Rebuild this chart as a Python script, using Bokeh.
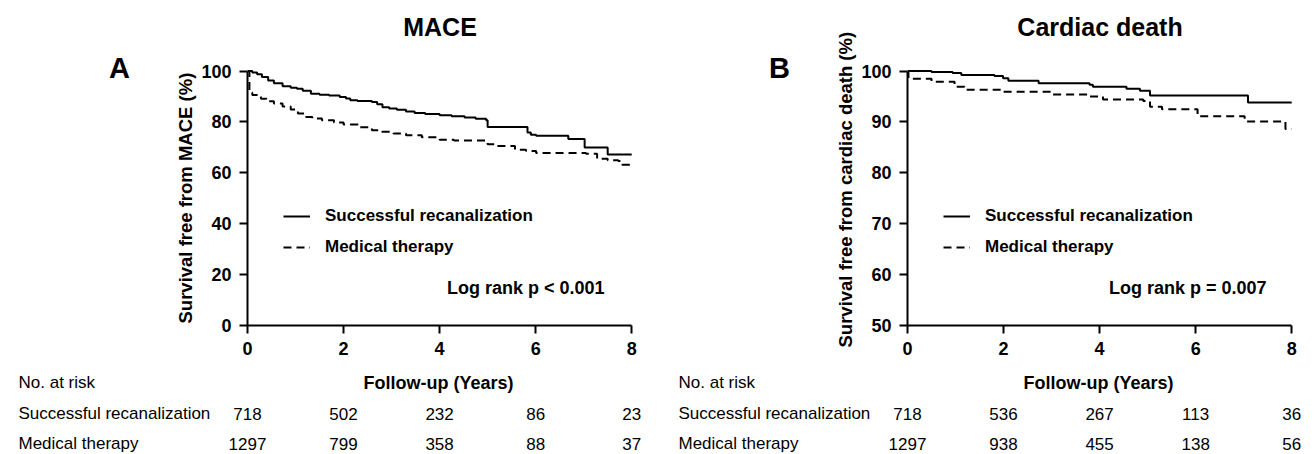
import math
from bokeh.plotting import figure
from bokeh.models import Label, Legend, LegendItem, FixedTicker, Range1d, Title
from bokeh.layouts import row, column
from bokeh.embed import file_html
from bokeh.resources import INLINE
from bokeh.core.properties import value

FONT = "Liberation Sans"

# ---------------- data ----------------
groups = ["Successful recanalization", "Medical therapy"]
x_ticks = [0, 2, 4, 6, 8]

# Panel A: MACE
mace_recan_t = [0, 0.1, 0.2, 0.3, 0.43, 0.55, 0.73, 0.9, 1.03, 1.15, 1.32, 1.5, 1.7, 1.92, 2.05, 2.14,
                2.29, 2.59, 2.7, 2.81, 2.95, 3.11, 3.3, 3.48, 3.7, 4.0, 4.25, 4.52, 4.75, 4.97, 5.0,
                5.83, 5.9, 6.01, 6.68, 7.02, 7.5, 8.0]
mace_recan_s = [100, 99.4, 98.7, 97.6, 96.3, 95.2, 94.0, 93.4, 93.0, 92.2, 91.1, 90.7, 90.4, 89.8, 89.2, 88.5,
                88.2, 87.8, 86.9, 85.8, 85.3, 84.8, 84.1, 83.5, 83.1, 82.6, 82.2, 81.7, 81.2, 80.6, 78.0,
                75.8, 75.0, 74.6, 73.3, 69.9, 67.2, 67.2]
mace_med_t = [0, 0.04, 0.1, 0.2, 0.28, 0.4, 0.55, 0.73, 0.9, 1.05, 1.18, 1.35, 1.55, 1.8, 2.0, 2.3, 2.59,
              2.8, 3.04, 3.3, 3.63, 4.0, 4.3, 4.97, 5.0, 5.2, 5.57, 5.8, 6.01, 7.05, 7.28, 7.5, 7.72, 7.8, 8.0]
mace_med_s = [100, 91.5, 90.6, 89.8, 89.1, 88.1, 87.2, 86.1, 84.9, 83.3, 81.9, 81.3, 80.6, 79.8, 79.0, 77.9, 76.7,
              76.1, 75.4, 74.8, 74.0, 73.0, 72.7, 72.5, 71.2, 70.5, 69.1, 68.6, 67.8, 67.5, 65.5, 64.9, 64.6, 63.2, 63.2]
mace_y_ticks = [0, 20, 40, 60, 80, 100]
mace_risk_recan = ["718", "502", "232", "86", "23"]
mace_risk_med = ["1297", "799", "358", "88", "37"]

# Panel B: Cardiac death
cd_recan_t = [0, 0.5, 0.94, 1.12, 1.81, 1.99, 2.1, 2.73, 3.79, 3.86, 4.56, 4.84, 5.05, 7.09, 8.0]
cd_recan_s = [100, 99.8, 99.6, 99.2, 99.0, 98.6, 98.1, 97.6, 97.3, 96.9, 96.5, 96.1, 95.2, 93.8, 93.8]
cd_med_t = [0, 0.02, 0.5, 0.98, 1.19, 1.96, 3.0, 3.79, 4.07, 4.91, 5.05, 5.3, 6.04, 7.02, 7.87, 8.0]
cd_med_s = [100, 98.5, 97.9, 96.9, 96.3, 95.9, 95.4, 95.0, 94.4, 94.1, 93.0, 92.5, 91.1, 90.1, 88.6, 88.6]
cd_y_ticks = [50, 60, 70, 80, 90, 100]
cd_risk_recan = ["718", "536", "267", "113", "36"]
cd_risk_med = ["1297", "938", "455", "138", "56"]

# ---------------- layout constants (pixels) ----------------
TOTAL_H = 454
TOP_H = 365          # side + plot row height
TABLE_H = TOTAL_H - TOP_H
AX_BORDER = 90       # room for y tick labels and y axis title
FRAME_W = 389
FRAME_H = 325        # frame from top of canvas to x axis
BOTTOM_B = TOP_H - FRAME_H
X_END = 8.1
SX = FRAME_W / X_END
PX_PER_SPAN = 254.5  # pixels between lowest and highest y tick


def blank(width, height, xr, yr, bottom=0):
    f = figure(width=width, height=height, x_range=xr, y_range=yr, output_backend="svg",
               toolbar_location=None, x_axis_location=None, y_axis_location=None, title=None,
               min_border=0, min_border_left=0, min_border_right=0, min_border_top=0,
               min_border_bottom=bottom)
    f.outline_line_color = None
    f.xgrid.visible = False
    f.ygrid.visible = False
    f.background_fill_color = "white"
    f.border_fill_color = "white"
    return f


def half(x0, width, frame_left, y0, y1, y_ticks, curves_t, curves_s, title, letter, ylabel, ylabel_bottom,
         pval, pval_right, risk, table_left):
    side_w = frame_left - AX_BORDER - x0
    sy = PX_PER_SPAN / (y1 - y0)
    y_end = y0 + FRAME_H / sy

    # ----- side figure: panel letter (data y = TOP_H - page y) -----
    side = blank(side_w, TOP_H, Range1d(x0, x0 + side_w), Range1d(BOTTOM_B, TOP_H), bottom=BOTTOM_B)
    side.add_layout(Label(x=frame_left - 128, y=TOP_H - 67, text=letter, text_font=FONT,
                          text_font_style="bold", text_font_size="29px", text_align="center",
                          text_baseline="alphabetic", text_color="black"))

    # ----- plot figure -----
    pw = width - side_w
    p = figure(width=pw, height=TOP_H, x_range=Range1d(0, X_END), y_range=Range1d(y0, y_end),
               output_backend="svg", toolbar_location=None, title=None,
               min_border_left=AX_BORDER, min_border_right=pw - AX_BORDER - FRAME_W,
               min_border_top=0, min_border_bottom=BOTTOM_B)
    p.outline_line_color = None
    p.xgrid.visible = False
    p.ygrid.visible = False
    p.background_fill_color = "white"
    p.border_fill_color = "white"

    def dx(px):
        return (px - frame_left) / SX

    def dy(py):
        return y0 + (FRAME_H - py) / sy

    for ax, ticks, bnds in ((p.xaxis[0], x_ticks, (0, 8)), (p.yaxis[0], y_ticks, (y0, y1))):
        ax.ticker = FixedTicker(ticks=ticks)
        ax.bounds = bnds
        ax.axis_line_width = 2
        ax.axis_line_color = "black"
        ax.major_tick_line_width = 2
        ax.major_tick_line_color = "black"
        ax.major_tick_out = 8
        ax.major_tick_in = 0
        ax.minor_tick_line_color = None
        ax.major_label_text_font = FONT
        ax.major_label_text_font_style = "bold"
        ax.major_label_text_font_size = "18px"
        ax.major_label_text_color = "black"
    p.xaxis[0].major_label_standoff = 8
    p.yaxis[0].major_label_standoff = 8

    # y axis title: starts (bottom end of the rotated text) at page y = ylabel_bottom
    p.add_layout(Title(text=ylabel, align="left", offset=FRAME_H - ylabel_bottom,
                       standoff=5, text_font=FONT, text_font_style="bold",
                       text_font_size="18.5px", text_color="black"), "left")

    r1 = p.step(curves_t[0], curves_s[0], mode="after", line_color="black", line_width=2)
    r2 = p.step(curves_t[1], curves_s[1], mode="after", line_color="black", line_width=2, line_dash="8 5")

    legend = Legend(items=[LegendItem(label=groups[0], renderers=[r1]),
                           LegendItem(label=groups[1], renderers=[r2])],
                    location=(36, 68), glyph_width=27, glyph_height=20, label_height=20,
                    label_standoff=15, spacing=11, padding=0, margin=0,
                    border_line_color=None, background_fill_alpha=0,
                    label_text_font=FONT, label_text_font_style="bold",
                    label_text_font_size="17px", label_text_color="black")
    p.add_layout(legend)

    p.add_layout(Label(x=dx(frame_left + 192.5), y=dy(26.5), text=title, text_font=FONT,
                       text_font_style="bold", text_font_size="25px", text_align="center",
                       text_baseline="alphabetic", text_color="black"))
    p.add_layout(Label(x=dx(pval_right), y=dy(287.5), text=pval, text_font=FONT,
                       text_font_style="bold", text_font_size="18px", text_align="right",
                       text_baseline="alphabetic", text_color="black"))

    # ----- number-at-risk table, same x scale as the plot -----
    t = blank(width, TABLE_H, Range1d((x0 - frame_left) / SX, (x0 + width - frame_left) / SX),
              Range1d(0, TABLE_H))

    def ty(py):
        return TOTAL_H - py

    t.text(x=[dx(frame_left + 191)], y=[ty(382)], text=["Follow-up (Years)"], text_font=value(FONT),
           text_font_style="bold", text_font_size="18px", text_align="center",
           text_baseline="alphabetic", text_color="black")
    t.text(x=[dx(table_left)] * 3, y=[ty(382), ty(413), ty(443)], text=["No. at risk"] + groups,
           text_font=value(FONT), text_font_size="17px", text_align="left",
           text_baseline="alphabetic", text_color="black")
    for vals, py in ((risk[0], 413), (risk[1], 443)):
        t.text(x=x_ticks, y=[ty(py)] * len(x_ticks), text=vals, text_font=value(FONT),
               text_font_size="17px", text_align="center", text_baseline="alphabetic",
               text_color="black")

    return column(row(side, p, spacing=0), t, spacing=0)


hA = half(0, 650, 247, 0, 100, mace_y_ticks, (mace_recan_t, mace_med_t), (mace_recan_s, mace_med_s),
          "MACE", "A", "Survival free from MACE (%)", 323, "Log rank p < 0.001", 604,
          (mace_risk_recan, mace_risk_med), 18)
hB = half(650, 665, 907, 50, 100, cd_y_ticks, (cd_recan_t, cd_med_t), (cd_recan_s, cd_med_s),
          "Cardiac death", "B", "Survival free from cardiac death (%)", 347, "Log rank p = 0.007", 1266,
          (cd_risk_recan, cd_risk_med), 678)

layout = row(hA, hB, spacing=0)
open("out.html", "w").write(file_html(layout, INLINE))
